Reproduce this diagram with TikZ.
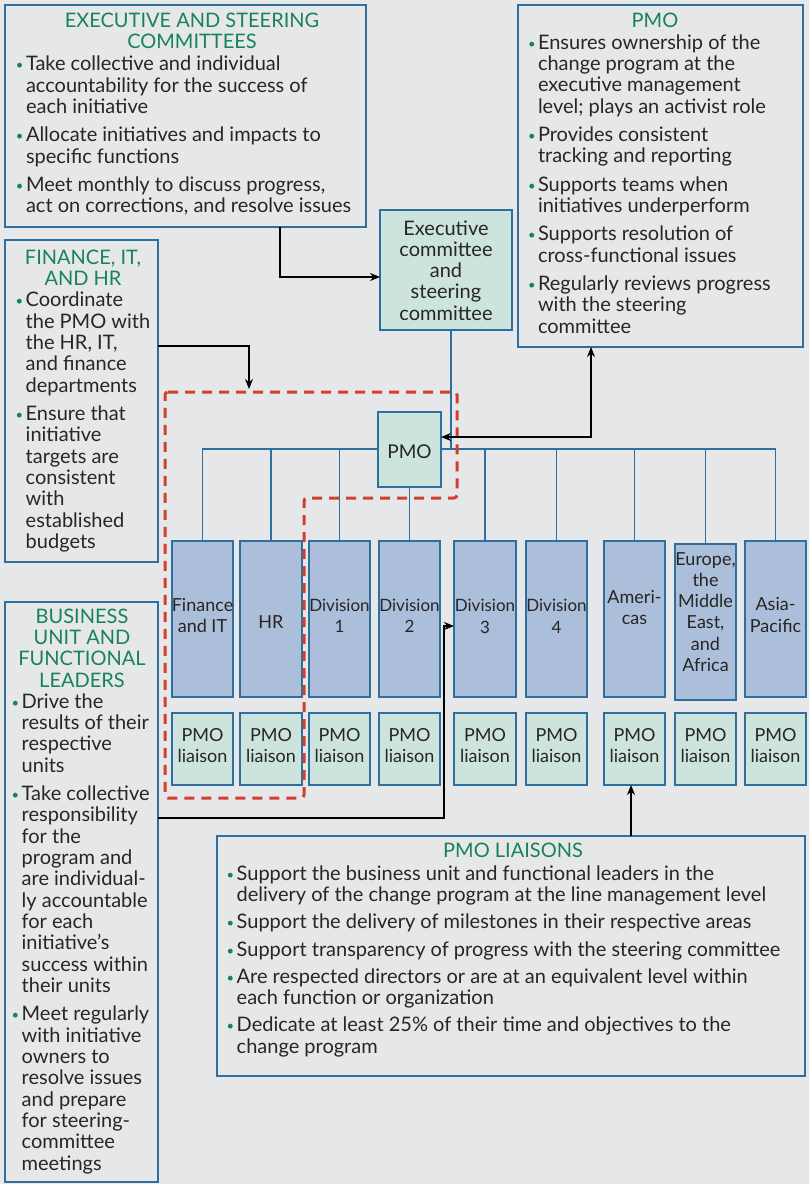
\documentclass[tikz,border=0pt]{standalone}
\usepackage{fontspec}
\setmainfont{Lato}
\usetikzlibrary{arrows.meta}

\definecolor{bg}{HTML}{E6E7E9}
\definecolor{edge}{HTML}{2E6F9E}
\definecolor{tealfill}{HTML}{CDE3DE}
\definecolor{unitfill}{HTML}{ABBEDA}
\definecolor{hilite}{HTML}{D2402B}
\definecolor{ttl}{HTML}{18825E}
\definecolor{ink}{HTML}{262626}

% bullet, hanging indent and first-line strut for the text blocks
\newcommand\Bdot{\makebox[10pt][l]{\raisebox{1pt}{\fontsize{13}{13}\selectfont\textcolor{ttl}{•}}}}
\newcommand\Bind{\hspace*{10pt}}
\newcommand\Bstrut{\rule{0pt}{16pt}}

\begin{document}
\begin{tikzpicture}[x=1pt,y=-1pt,
  every node/.style={inner sep=0pt, outer sep=0pt, font=\fontsize{20}{21.33}\selectfont, text=ink},
  panel/.style={draw=edge, line width=1.5pt, fill=bg},
  tealbox/.style={draw=edge, line width=1.5pt, fill=tealfill},
  unit/.style={draw=edge, line width=1.5pt, fill=unitfill, minimum width=61pt, minimum height=156pt},
  liaison/.style={tealbox, minimum width=61pt, minimum height=72pt},
  wire/.style={draw=edge, line width=1.5pt},
  arr/.style={draw=black, line width=1.3pt, -{Stealth[length=10pt,width=8pt]}},
  head/.style={anchor=north, align=center, text=ttl},
  list/.style={anchor=north west, align=left},
  lbl/.style={anchor=north, align=center, font=\fontsize{18}{21.33}\selectfont},
  divlbl/.style={lbl, font=\fontsize{17}{21.33}\selectfont},
]
\fill[bg] (0,0) rectangle (809,1184);
\useasboundingbox (0,0) rectangle (809,1184);

% description panels
\node[panel, minimum width=361pt, minimum height=222pt] (exsteer) at (185.5,116) {};
\node[panel, minimum width=285pt, minimum height=342pt] (pmodesc) at (660.5,176) {};
\node[panel, minimum width=153pt, minimum height=322pt] (finbox) at (81.5,401) {};
\node[panel, minimum width=153pt, minimum height=580pt] (bubox) at (81.5,892) {};
\node[panel, minimum width=588pt, minimum height=240pt] (liaibox) at (511,956) {};

% organisation chart boxes
\node[tealbox, minimum width=132pt, minimum height=120pt] (excom) at (446,270) {};
\node[tealbox, minimum width=63pt, minimum height=75pt] (pmo) at (409.5,449.5) {};

\node[unit] (fin) at (202.5,619) {};
\node[unit, minimum width=62pt] (hr) at (271,619) {};
\node[unit] (d1) at (339.5,619) {};
\node[unit] (d2) at (409.5,619) {};
\node[unit, minimum width=62pt] (d3) at (485,619) {};
\node[unit] (d4) at (556.5,619) {};
\node[unit] (am) at (634.5,619) {};
\node[unit] (eu) at (705.5,622) {};
\node[unit] (ap) at (775.5,619) {};

\node[liaison] (lfin) at (202.5,749) {};
\node[liaison, minimum width=62pt] (lhr) at (271,749) {};
\node[liaison] (ld1) at (339.5,749) {};
\node[liaison] (ld2) at (409.5,749) {};
\node[liaison, minimum width=62pt] (ld3) at (485,749) {};
\node[liaison] (ld4) at (556.5,749) {};
\node[liaison] (lam) at (634.5,749) {};
\node[liaison] (leu) at (705.5,749) {};
\node[liaison] (lap) at (775.5,749) {};

% reporting lines
\coordinate (bus) at (0,449);
\coordinate (exline) at (451,0);
\draw[wire] (fin.north) -- (fin.north |- bus) -- (pmo.west |- bus);
\draw[wire] (pmo.east |- bus) -- (ap.north |- bus) -- (ap.north);
\foreach \u in {hr,d1,d3,d4,am,eu} \draw[wire] (\u.north) -- (\u.north |- bus);
\draw[wire] (pmo.south) -- (d2.north);
\draw[wire] (excom.south -| exline) -- (exline |- bus);

% panel headings
\node[head] (exsteerT) at (192,11.3) {\Bstrut EXECUTIVE AND STEERING\\COMMITTEES};
\node[head] (pmodescT) at (655,11.3) {\Bstrut PMO};
\node[head] (finboxT) at (83,248.3) {\Bstrut FINANCE, IT,\\AND HR};
\node[head] (buboxT) at (82,607.3) {\Bstrut BUSINESS\\UNIT AND\\FUNCTIONAL\\LEADERS};
\node[head] (liaiboxT) at (513,841.3) {\Bstrut PMO LIAISONS};

% panel bullet lists
\node[list] (exsteerL) at (16,54.7) {\Bstrut\Bdot Take collective and individual\\\Bind accountability for the success of\\\Bind each initiative\\[7pt]%
\Bdot Allocate initiatives and impacts to\\\Bind specific functions\\[7pt]%
\Bdot Meet monthly to discuss progress,\\\Bind act on corrections, and resolve issues};

\node[list] (pmodescL) at (528,33.3) {\Bstrut\Bdot Ensures ownership of the\\\Bind change program at the\\\Bind executive management\\\Bind level; plays an activist role\\[7pt]%
\Bdot Provides consistent\\\Bind tracking and reporting\\[7pt]%
\Bdot Supports teams when\\\Bind initiatives underperform\\[7pt]%
\Bdot Supports resolution of\\\Bind cross-functional issues\\[7pt]%
\Bdot Regularly reviews progress\\\Bind with the steering\\\Bind committee};

\node[list] (finboxL) at (15.7,290.7) {\Bstrut\Bdot Coordinate\\\Bind the PMO with\\\Bind the HR, IT,\\\Bind and finance\\\Bind departments\\[7pt]%
\Bdot Ensure that\\\Bind initiative\\\Bind targets are\\\Bind consistent\\\Bind with\\\Bind established\\\Bind budgets};

\node[list] (buboxL) at (11.7,692.3) {\Bstrut\Bdot Drive the\\\Bind results of their\\\Bind respective\\\Bind units\\[7pt]%
\Bdot Take collective\\\Bind responsibility\\\Bind for the\\\Bind program and\\\Bind are individual-\\\Bind ly accountable\\\Bind for each\\\Bind initiative’s\\\Bind success within\\\Bind their units\\[7pt]%
\Bdot Meet regularly\\\Bind with initiative\\\Bind owners to\\\Bind resolve issues\\\Bind and prepare\\\Bind for steering-\\\Bind committee\\\Bind meetings};

\node[list] (liaiboxL) at (226.7,864) {\Bstrut\Bdot Support the business unit and functional leaders in the\\\Bind delivery of the change program at the line management level\\[6pt]%
\Bdot Support the delivery of milestones in their respective areas\\[6pt]%
\Bdot Support transparency of progress with the steering committee\\[6pt]%
\Bdot Are respected directors or are at an equivalent level within\\\Bind each function or organization\\[6pt]%
\Bdot Dedicate at least 25\% of their time and objectives to the\\\Bind change program};

% chart labels
\node[lbl, font=\fontsize{20}{21.33}\selectfont] (excomT) at (446,219) {\Bstrut Executive\\committee\\and\\steering\\committee};
\node[lbl, font=\fontsize{19}{21.33}\selectfont] (pmoT) at (409.5,442.3) {\Bstrut PMO};
\node[lbl] (finT) at (202.5,595) {\Bstrut Finance\\and IT};
\node[lbl] (hrT) at (271,612.3) {\Bstrut HR};
\node[divlbl] (d1T) at (339.5,595) {\Bstrut Division\\1};
\node[divlbl] (d2T) at (409.5,595) {\Bstrut Division\\2};
\node[divlbl] (d3T) at (485,595.7) {\Bstrut Division\\3};
\node[divlbl] (d4T) at (556.5,595.7) {\Bstrut Division\\4};
\node[lbl] (amT) at (634.5,587.3) {\Bstrut Ameri-\\cas};
\node[lbl] (euT) at (705.5,549) {\Bstrut Europe,\\the\\Middle\\East,\\and\\Africa};
\node[lbl] (apT) at (775.5,594.7) {\Bstrut Asia-\\Pacific};
\foreach \l in {lfin,lhr,ld1,ld2,ld3,ld4,lam,leu,lap}
  \node[lbl] (\l T) at (\l.center |- 0,725) {\Bstrut PMO\\liaison};

% finance and HR group
\draw[hilite, line width=3pt, dash pattern=on 10pt off 7pt, rounded corners=3pt]
  (165,392) -- (457,392) -- (457,498) -- (304,498) -- (304,798) -- (165,798) -- cycle;

% links between panels and chart
\coordinate (c1) at (280,277);
\draw[arr] (exsteer.south -| c1) |- (excom.west |- c1);
\coordinate (c2) at (249,346);
\coordinate (grp) at (249,389);
\draw[arr] (finbox.east |- c2) -| (grp);
\coordinate (c3) at (591,437);
\draw[draw=black, line width=1.3pt, {Stealth[length=10pt,width=8pt]}-{Stealth[length=10pt,width=8pt]}] (pmodesc.south -| c3) |- (pmo.east |- c3);
\coordinate (c4) at (444,818);
\coordinate (c4b) at (444,626);
\draw[arr] (bubox.east |- c4) -- (c4) -- (c4b) -- (d3.west |- c4b);
\coordinate (c5) at (631,0);
\draw[arr] (liaibox.north -| c5) -- (lam.south -| c5);
\end{tikzpicture}
\end{document}
